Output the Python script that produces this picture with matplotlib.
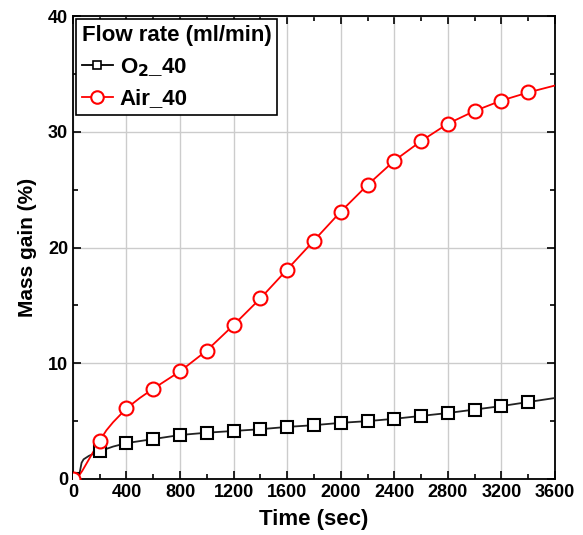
import matplotlib
matplotlib.use("Agg")
import matplotlib.pyplot as plt
from matplotlib.ticker import MultipleLocator

plt.rcParams['font.family'] = ['Liberation Sans', 'DejaVu Sans']
plt.rcParams['font.weight'] = 'bold'

# marker points (every 200 s)
time_mk = [0, 200, 400, 600, 800, 1000, 1200, 1400, 1600, 1800, 2000,
           2200, 2400, 2600, 2800, 3000, 3200, 3400]
o2_mk = [0.0, 2.4, 3.1, 3.45, 3.8, 4.0, 4.15, 4.3, 4.5, 4.65, 4.85,
         5.0, 5.2, 5.45, 5.7, 6.0, 6.3, 6.65]
air_mk = [0.0, 3.3, 6.1, 7.8, 9.3, 11.1, 13.3, 15.6, 18.1, 20.6, 23.1,
          25.4, 27.5, 29.2, 30.7, 31.8, 32.7, 33.4]

# continuous traces
o2_t = [0, 30, 50, 65, 80, 120, 160, 200, 300, 400, 600, 800, 1000, 1200,
        1400, 1600, 1800, 2000, 2200, 2400, 2600, 2800, 3000, 3200, 3400, 3600]
o2_y = [0.0, 0.0, 0.5, 1.4, 1.7, 2.0, 2.2, 2.4, 2.8, 3.1, 3.45, 3.8, 4.0, 4.15,
        4.3, 4.5, 4.65, 4.85, 5.0, 5.2, 5.45, 5.7, 6.0, 6.3, 6.65, 7.0]
air_t = [0, 40, 70, 100, 130, 160, 200, 250, 300, 400, 500, 600, 800, 1000, 1200, 1400,
         1600, 1800, 2000, 2200, 2400, 2600, 2800, 3000, 3200, 3400, 3600]
air_y = [0.0, 0.2, 0.7, 1.3, 1.9, 2.5, 3.3, 4.2, 4.9, 6.1, 7.0, 7.8, 9.3, 11.1, 13.3, 15.6,
         18.1, 20.6, 23.1, 25.4, 27.5, 29.2, 30.7, 31.8, 32.7, 33.4, 34.0]

fig = plt.figure(figsize=(5.83, 5.35), dpi=100)
ax = fig.add_axes([0.125, 0.1047, 0.827, 0.8653])

ax.plot(o2_t, o2_y, '-', color='#222222', lw=1.3, zorder=3)
ax.plot(time_mk, o2_mk, 's', color='black', mfc='white', mew=1.5, ms=8, zorder=4)
ax.plot(air_t, air_y, '-', color='red', lw=1.3, zorder=3)
ax.plot(time_mk, air_mk, 'o', color='red', mfc='white', mew=1.5, ms=10, zorder=4)

# legend proxies
h1, = ax.plot([], [], '-s', color='black', mfc='white', mew=1.2, ms=6, lw=1.3)
h2, = ax.plot([], [], '-o', color='red', mfc='white', mew=1.5, ms=9, lw=1.3)
leg = ax.legend([h1, h2], [r'O$_\mathbf{2}$_40', 'Air_40'],
                title='Flow rate (ml/min)', loc='upper left',
                prop={'weight': 'bold', 'size': 16},
                title_fontproperties={'weight': 'bold', 'size': 16},
                alignment='left', fancybox=False, framealpha=1,
                edgecolor='black', borderaxespad=0.15, handlelength=1.4,
                handletextpad=0.3, borderpad=0.25, labelspacing=0.45)
leg.get_frame().set_linewidth(1.2)

ax.set_xlim(0, 3600)
ax.set_ylim(0, 40)
ax.xaxis.set_major_locator(MultipleLocator(400))
ax.xaxis.set_minor_locator(MultipleLocator(200))
ax.yaxis.set_major_locator(MultipleLocator(10))
ax.yaxis.set_minor_locator(MultipleLocator(5))
ax.tick_params(which='both', direction='in', top=True, right=True, width=1.2)
ax.tick_params(which='major', length=6, labelsize=13)
ax.tick_params(which='minor', length=3.5)
for lab in ax.get_xticklabels() + ax.get_yticklabels():
    lab.set_fontweight('bold')
ax.grid(True, which='major', color='#cccccc', lw=1.0, zorder=0)
ax.set_axisbelow(True)
for s in ax.spines.values():
    s.set_linewidth(1.3)

ax.set_xlabel('Time (sec)', fontsize=16, fontweight='bold', labelpad=6)
ax.set_ylabel('Mass gain (%)', fontsize=15, fontweight='bold', labelpad=8)

plt.savefig('out.png', dpi=100)
plt.close()
